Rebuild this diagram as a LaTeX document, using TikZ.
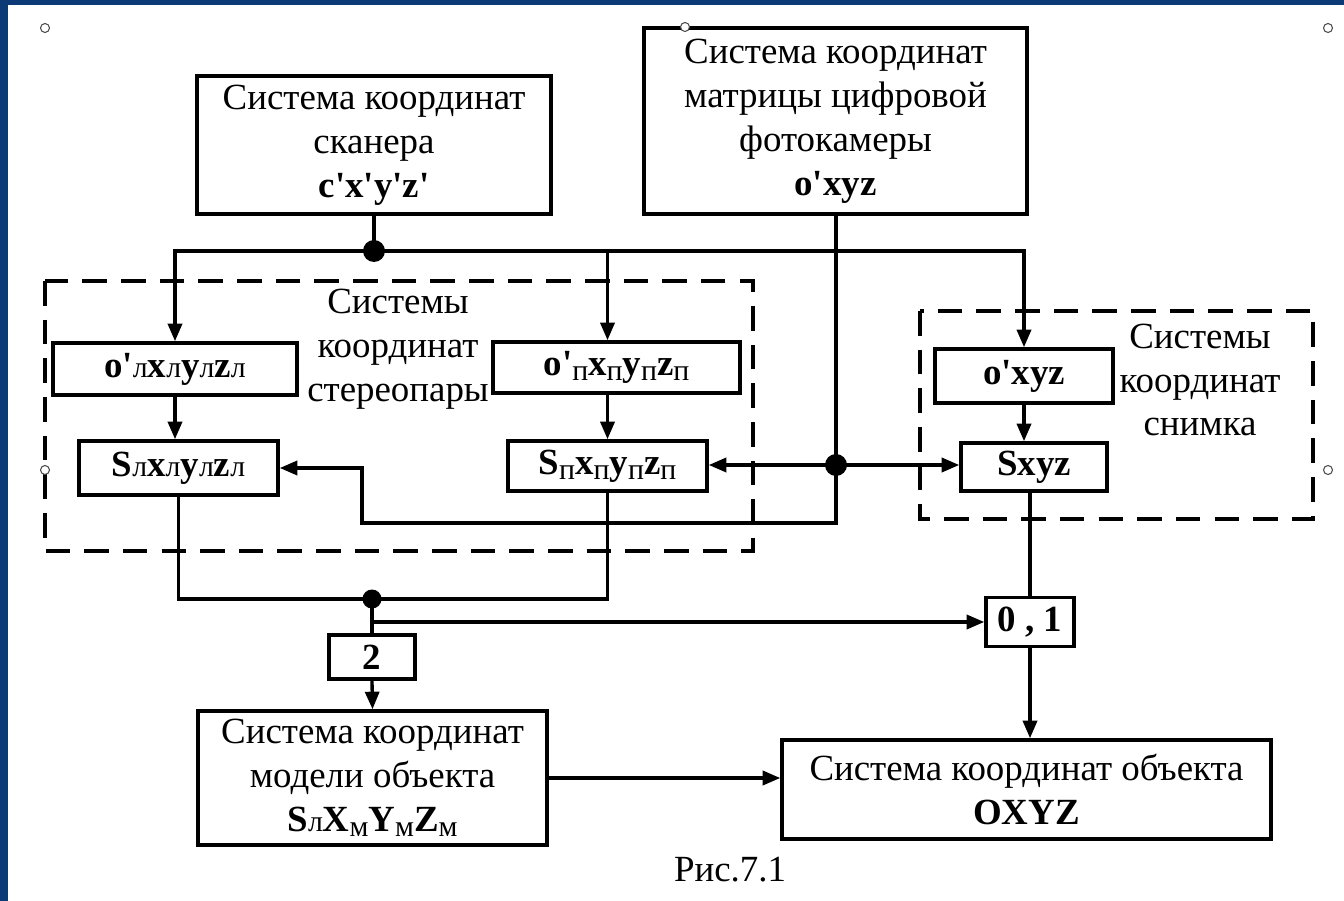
\documentclass[tikz,border=0pt]{standalone}
\usepackage{fontspec}
\setmainfont{Liberation Serif}[Ligatures=TeXOff]
\usepackage{tikz}
\usetikzlibrary{arrows.meta, calc}
\definecolor{slideblue}{RGB}{12,58,118}
\newcommand{\lo}[1]{{\mdseries\fontsize{17}{17}\selectfont #1}}
\newcommand{\ls}[1]{\raisebox{-3pt}{\mdseries\fontsize{17}{17}\selectfont #1}}

\begin{document}
\begin{tikzpicture}[
    x=0.02cm, y=-0.02cm,
    font=\fontsize{21}{25}\selectfont,
    >={Triangle[length=10pt,width=8pt]},
    box/.style={rectangle, draw, line width=2pt, inner sep=0pt, align=center},
    grp/.style={draw, line width=2pt, dash pattern=on 14pt off 8pt},
    wire/.style={line width=1.9pt},
    dot/.style={circle, fill, inner sep=0pt, minimum size=0.44cm},
    handle/.style={circle, draw=black!70, fill=white, line width=0.6pt, inner sep=0pt, minimum size=0.18cm}
]
    \useasboundingbox (0,0) rectangle (1344,901);
    \fill[slideblue] (0,0) rectangle (1344,5);
    \fill[slideblue] (0,0) rectangle (8,901);

    % upper blocks
    \node[box, minimum width=7.08cm, minimum height=2.76cm] (scan) at (374,145)
        {Система координат\\сканера\\\textbf{c'x'y'z'}};
    \node[box, minimum width=7.66cm, minimum height=3.72cm] (cam) at (835.5,121)
        {Система координат\\матрицы цифровой\\фотокамеры\\\textbf{o'xyz}};

    % stereo pair
    \draw[grp] (45,281) rectangle (753,551);
    \node[align=center] (grpst) at (398,349) {Системы\\координат\\стереопары};
    \node[box, minimum width=4.88cm, minimum height=1.04cm] (olev) at (175,369)
        {\textbf{o'\lo{л}x\lo{л}y\lo{л}z\lo{л}}};
    \node[box, minimum width=3.98cm, minimum height=1.08cm] (slev) at (178.5,468)
        {\textbf{S\lo{л}x\lo{л}y\lo{л}z\lo{л}}};
    \node[box, minimum width=4.94cm, minimum height=1.02cm] (oprav) at (616.5,367.5)
        {\textbf{o'\ls{п}x\ls{п}y\ls{п}z\ls{п}}};
    \node[box, minimum width=3.98cm, minimum height=1.0cm] (sprav) at (607.5,466)
        {\textbf{S\ls{п}x\ls{п}y\ls{п}z\ls{п}}};

    % image
    \draw[grp] (920,311) rectangle (1313,519);
    \node[align=center] (grpsn) at (1200,380) {Системы\\координат\\снимка};
    \node[box, minimum width=3.56cm, minimum height=1.08cm] (osn) at (1024,376) {\textbf{o'xyz}};
    \node[box, minimum width=2.92cm, minimum height=0.96cm] (ssn) at (1034,467) {\textbf{Sxyz}};

    % lower blocks
    \node[box, minimum width=1.72cm, minimum height=0.88cm] (two) at (372,657) {\textbf{2}};
    \node[box, minimum width=1.76cm, minimum height=0.98cm] (sel) at (1030,622) {\textbf{0 , 1}};
    \node[box, minimum width=6.98cm, minimum height=2.68cm] (model) at (372.5,778)
        {Система координат\\модели объекта\\\textbf{S\lo{л}X\ls{м}Y\ls{м}Z\ls{м}}};
    \node[box, minimum width=9.78cm, minimum height=1.98cm] (obj) at (1026.5,789.5)
        {Система координат объекта\\\textbf{OXYZ}};
    \node (cap) at (730,870) {Рис.7.1};

    % junctions
    \coordinate (jtop) at (374,251);
    \coordinate (jmid) at (836,465);
    \coordinate (bend) at (362,523);
    \coordinate (jbot) at (372,599);
    \coordinate (jbr) at (372,622);

    % connectors
    \draw[wire] (scan.south) -- (jtop);
    \draw[wire, ->] (jtop) -| (olev.north);
    \draw[wire, ->] (jtop) -| (oprav.north -| sprav.north);
    \draw[wire, ->] (jtop) -| (osn.north);
    \draw[wire, ->] (olev.south) -- (olev.south |- slev.north);
    \draw[wire, ->] (oprav.south -| sprav.north) -- (sprav.north);
    \draw[wire, ->] (osn.south) -- (osn.south |- ssn.north);
    \draw[wire, ->] (cam.south -| jmid) -- (jmid |- bend) -- (bend) |- (slev.east);
    \draw[wire, ->] (jmid) -- (jmid -| sprav.east);
    \draw[wire, ->] (jmid) -- (jmid -| ssn.west);
    \draw[wire] (slev.south) |- (jbot) -| (sprav.south);
    \draw[wire] (jbot) -- (two.north);
    \draw[wire, ->] (jbr) -- (jbr -| sel.west);
    \draw[wire, ->] (two.south) -- (model.north);
    \draw[wire] (ssn.south -| sel.north) -- (sel.north);
    \draw[wire, ->] (sel.south) -- (sel.south |- obj.north);
    \draw[wire, ->] (model.east) -- (model.east -| obj.west);
    \node[dot] (dtop) at (jtop) {};
    \node[dot] (dmid) at (jmid) {};
    \node[dot, minimum size=0.38cm] (dbot) at (jbot) {};

    % selection handles
    \foreach \hx/\hy in {45/28, 685/27, 1328/28, 45/470, 1328/470}
        \node[handle] at (\hx,\hy) {};
\end{tikzpicture}
\end{document}
